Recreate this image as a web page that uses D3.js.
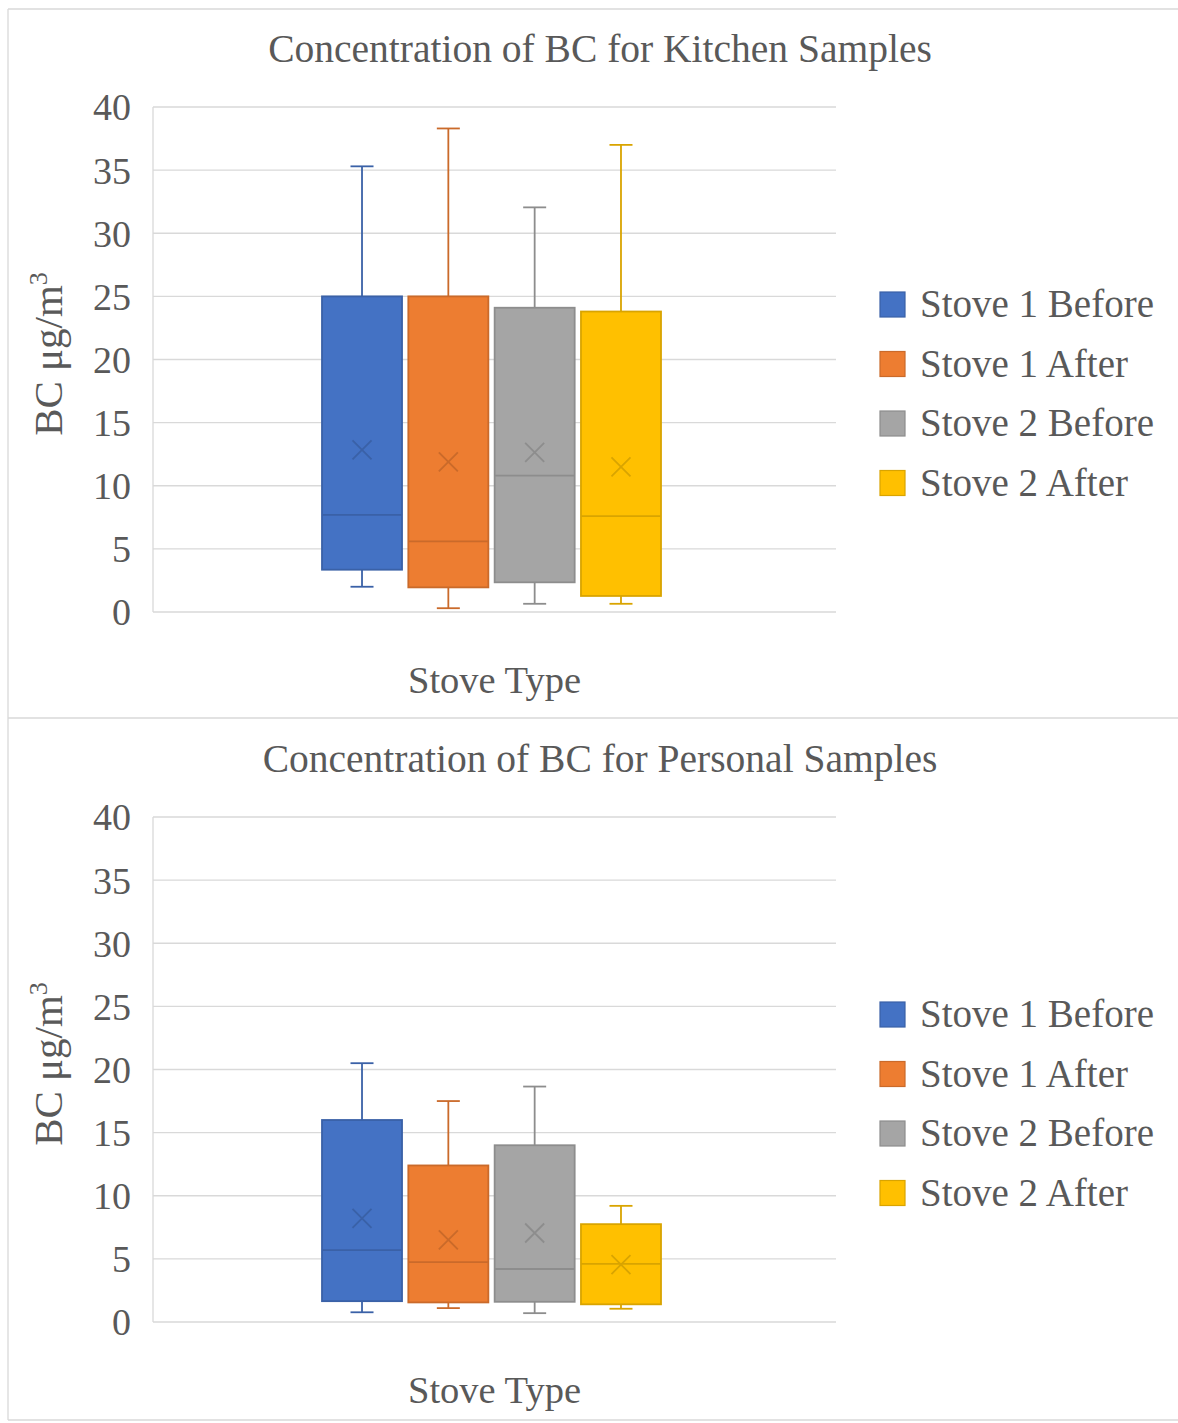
<!DOCTYPE html>
<html>
<head>
<meta charset="utf-8">
<script src="https://cdn.jsdelivr.net/npm/d3@7"></script>
<style>
  html, body { margin: 0; padding: 0; background: #fff; }
  svg { display: block; }
  text { font-family: "Liberation Serif", "Times New Roman", serif; fill: #595959; }
</style>
</head>
<body>
<svg id="chart" width="1178" height="1423"></svg>
<script>
// ---- data ----
const series = ["Stove 1 Before", "Stove 1 After", "Stove 2 Before", "Stove 2 After"];
const colors = ["#4472C4", "#ED7D31", "#A5A5A5", "#FFC000"];
const yTicks = [0, 5, 10, 15, 20, 25, 30, 35, 40];
const titles = ["Concentration of BC for Kitchen Samples", "Concentration of BC for Personal Samples"];
const xTitle = "Stove Type";

const kitchenMin    = [2.0, 0.3, 0.65, 0.65];
const kitchenQ1     = [3.35, 1.95, 2.35, 1.27];
const kitchenMedian = [7.7, 5.6, 10.8, 7.6];
const kitchenQ3     = [25.0, 25.0, 24.1, 23.8];
const kitchenMax    = [35.3, 38.3, 32.05, 37.0];
const kitchenMean   = [12.85, 11.9, 12.65, 11.5];

const personalMin    = [0.77, 1.1, 0.7, 1.05];
const personalQ1     = [1.65, 1.55, 1.6, 1.4];
const personalMedian = [5.7, 4.75, 4.2, 4.6];
const personalQ3     = [16.0, 12.4, 14.0, 7.75];
const personalMax    = [20.5, 17.5, 18.65, 9.2];
const personalMean   = [8.2, 6.5, 7.05, 4.55];

const panels = [
  { title: titles[0], min: kitchenMin, q1: kitchenQ1, med: kitchenMedian, q3: kitchenQ3, max: kitchenMax, mean: kitchenMean },
  { title: titles[1], min: personalMin, q1: personalQ1, med: personalMedian, q3: personalQ3, max: personalMax, mean: personalMean }
];

// ---- layout ----
const svg = d3.select("#chart");
const frameColor = "#d9d9d9";
const panelOffset = 710;

// outer frames (no right edge visible in the reference)
const frame = [[8, 9, 1178, 9], [8, 718, 1178, 718], [8, 1420, 1178, 1420], [8, 9, 8, 1420]];
svg.append("g").selectAll("line").data(frame).join("line")
  .attr("x1", d => d[0]).attr("y1", d => d[1]).attr("x2", d => d[2]).attr("y2", d => d[3])
  .attr("stroke", frameColor).attr("stroke-width", 1.3);

const plotL = 153, plotR = 836, plotT = 107, plotB = 612;
const y = d3.scaleLinear().domain([0, 40]).range([plotB, plotT]);
const xs = d3.scaleBand().domain(series).range([322, 661]).paddingInner(0.073).paddingOuter(0);
const bw = xs.bandwidth();
const capW = 23;
const sw = 1.8;

panels.forEach((p, pi) => {
  const g = svg.append("g").attr("transform", `translate(0,${pi * panelOffset})`);

  // title
  g.append("text").attr("x", 600).attr("y", 62).attr("text-anchor", "middle")
    .attr("font-size", 39.5).text(p.title);

  // gridlines
  g.append("g").selectAll("line").data(yTicks).join("line")
    .attr("x1", plotL).attr("x2", plotR)
    .attr("y1", d => y(d)).attr("y2", d => y(d))
    .attr("stroke", frameColor).attr("stroke-width", 1.3);
  // y axis line
  g.append("line").attr("x1", plotL).attr("x2", plotL).attr("y1", plotT).attr("y2", plotB)
    .attr("stroke", frameColor).attr("stroke-width", 1.3);

  // y axis labels
  const yAxis = d3.axisLeft(y).tickValues(yTicks).tickSize(0).tickPadding(0);
  const ag = g.append("g").attr("transform", `translate(131,0)`).call(yAxis);
  ag.select(".domain").remove();
  ag.selectAll("text").attr("font-size", 38).attr("fill", "#595959")
    .attr("font-family", "Liberation Serif, Times New Roman, serif").attr("dy", "0.34em");

  // y title
  const yt = g.append("text").attr("transform", `translate(62,354) rotate(-90)`)
    .attr("text-anchor", "middle").attr("font-size", 41);
  yt.append("tspan").text("BC μg/m");
  yt.append("tspan").attr("font-size", 26).attr("dy", -15).text("3");

  // x title
  g.append("text").attr("x", 494.5).attr("y", 693).attr("text-anchor", "middle")
    .attr("font-size", 38.5).text(xTitle);

  // boxes
  series.forEach((s, i) => {
    const c = colors[i];
    const dark = d3.color(c).darker(0.45).formatHex();
    const x0 = xs(s), cx = x0 + bw / 2;
    const vMin = p.min[i], vQ1 = p.q1[i], vMed = p.med[i], vQ3 = p.q3[i], vMax = p.max[i], vMean = p.mean[i];
    const bg = g.append("g");
    // whiskers
    bg.append("line").attr("x1", cx).attr("x2", cx).attr("y1", y(vMax)).attr("y2", y(vQ3))
      .attr("stroke", dark).attr("stroke-width", sw);
    bg.append("line").attr("x1", cx).attr("x2", cx).attr("y1", y(vQ1)).attr("y2", y(vMin))
      .attr("stroke", dark).attr("stroke-width", sw);
    bg.append("line").attr("x1", cx - capW / 2).attr("x2", cx + capW / 2).attr("y1", y(vMax)).attr("y2", y(vMax))
      .attr("stroke", dark).attr("stroke-width", sw);
    bg.append("line").attr("x1", cx - capW / 2).attr("x2", cx + capW / 2).attr("y1", y(vMin)).attr("y2", y(vMin))
      .attr("stroke", dark).attr("stroke-width", sw);
    // box
    bg.append("rect").attr("x", x0).attr("y", y(vQ3)).attr("width", bw).attr("height", y(vQ1) - y(vQ3))
      .attr("fill", c).attr("stroke", dark).attr("stroke-width", sw);
    // median
    bg.append("line").attr("x1", x0).attr("x2", x0 + bw).attr("y1", y(vMed)).attr("y2", y(vMed))
      .attr("stroke", dark).attr("stroke-width", sw);
    // mean X
    const my = y(vMean), h = 9.5;
    bg.append("path").attr("d", `M${cx - h},${my - h}L${cx + h},${my + h}M${cx - h},${my + h}L${cx + h},${my - h}`)
      .attr("stroke", dark).attr("stroke-width", sw).attr("fill", "none");
  });

  // legend
  const lg = g.append("g");
  series.forEach((s, i) => {
    const cy = 304 + i * 59.5;
    lg.append("rect").attr("x", 880).attr("y", cy - 12).attr("width", 25).attr("height", 25)
      .attr("fill", colors[i]).attr("stroke", d3.color(colors[i]).darker(0.45).formatHex()).attr("stroke-width", 1.2);
    lg.append("text").attr("x", 920).attr("y", cy).attr("dy", "0.34em")
      .attr("font-size", 39).text(s);
  });
});
</script>
</body>
</html>
